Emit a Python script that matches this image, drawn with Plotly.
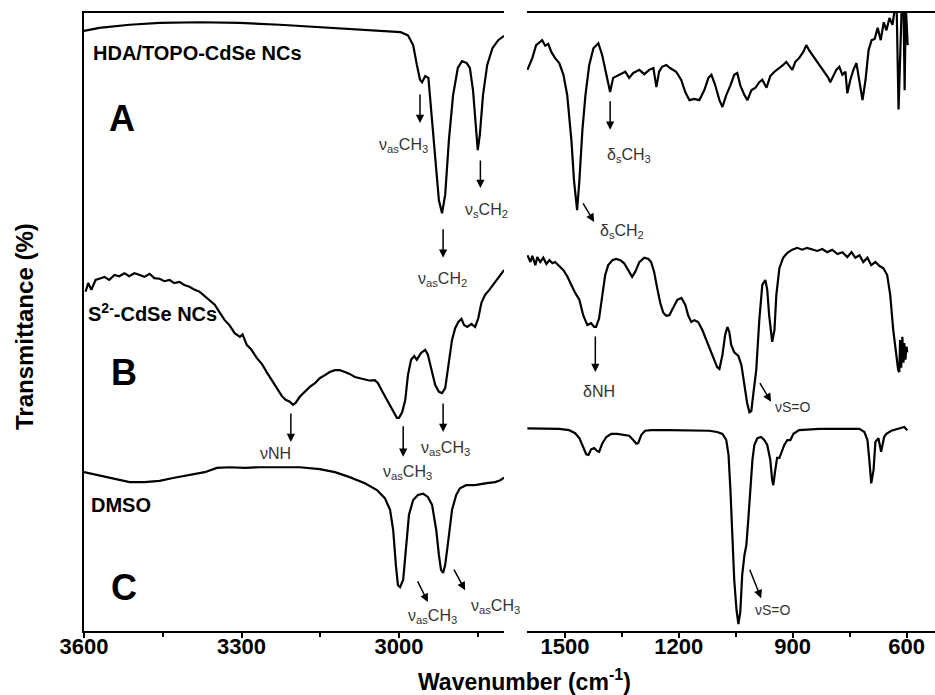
import plotly.graph_objects as go

# ---------------- DATA (wavenumber cm^-1, transmittance in arbitrary offset units) ----------------
# Curve A : HDA/TOPO-CdSe NCs, high-wavenumber region
a_hi_wn = [3600, 3571, 3513, 3456, 3380, 3303, 3227, 3151, 3074, 3017, 2997, 2983, 2973, 2966, 2960,
           2956, 2950, 2944, 2937, 2929, 2924, 2918, 2912, 2905, 2897, 2888, 2880, 2871, 2865, 2859,
           2854, 2850, 2846, 2840, 2832, 2822, 2811, 2800]
a_hi_t = [97.1, 97.6, 98.1, 98.4, 98.5, 98.4, 98.1, 97.7, 97.4, 97.1, 96.9, 96.4, 94.8, 91.6, 89.2,
          88.8, 89.8, 89.5, 82.7, 74.6, 69.7, 67.6, 70.6, 79.4, 86.7, 91.1, 92.2, 91.9, 91.1, 87.5,
          81.1, 77.8, 80.3, 86.7, 91.6, 94.3, 95.6, 96.3]
# Curve A : low-wavenumber region
a_lo_wn = [1599, 1586, 1576, 1565, 1560, 1552, 1544, 1536, 1526, 1515, 1504, 1494, 1483, 1476, 1470,
           1468, 1462, 1454, 1446, 1436, 1425, 1412, 1402, 1391, 1381, 1373, 1362, 1352, 1341, 1331,
           1320, 1304, 1291, 1278, 1267, 1259, 1252, 1244, 1233, 1223, 1207, 1194, 1183, 1172, 1159,
           1146, 1133, 1122, 1114, 1104, 1093, 1085, 1075, 1064, 1054, 1046, 1038, 1027, 1019, 1009,
           998, 988, 980, 969, 959, 948, 935, 925, 917, 909, 901, 893, 883, 872, 864,
           856, 848, 838, 827, 817, 806, 801, 793, 785, 777, 769, 761, 756, 748, 740,
           732, 724, 716, 708, 700, 692, 684, 676, 668, 660, 653, 645, 637, 632, 626,
           621, 618, 613, 608, 605, 602, 597]
a_lo_t = [90.8, 92.7, 94.8, 95.3, 95.6, 94.7, 95.0, 93.7, 92.7, 91.9, 90.0, 86.7, 79.4, 72.8, 68.9,
          68.1, 72.9, 81.1, 86.7, 91.6, 94.3, 95.1, 93.2, 90.0, 87.2, 89.5, 89.8, 90.1, 90.5, 89.5,
          90.3, 90.8, 90.1, 90.8, 91.1, 88.0, 90.5, 91.3, 91.6, 91.1, 90.5, 89.2, 87.2, 85.9, 86.1,
          85.9, 87.5, 89.5, 90.0, 88.3, 85.9, 84.8, 86.7, 88.3, 90.0, 90.3, 88.3, 86.7, 85.9, 87.5,
          87.9, 88.8, 89.2, 87.9, 89.8, 90.5, 91.1, 91.6, 92.1, 91.4, 90.8, 92.1, 92.7, 93.7, 94.8,
          93.9, 93.2, 92.4, 91.4, 90.5, 89.5, 88.8, 89.8, 90.8, 91.3, 90.0, 90.5, 87.0, 89.2, 90.8,
          91.9, 89.2, 85.9, 89.2, 94.0, 95.6, 95.8, 97.6, 95.6, 98.5, 97.2, 99.2, 98.1, 100.2, 100.8,
          84.4, 91.6, 100.5, 101.3, 87.5, 101.3, 94.8]

# Curve B : S2- -CdSe NCs, high-wavenumber region
b_hi_wn = [3597, 3592, 3586, 3578, 3571, 3561, 3552, 3542, 3533, 3523, 3514, 3504, 3494, 3485, 3475,
           3466, 3456, 3447, 3437, 3428, 3418, 3409, 3399, 3389, 3380, 3370, 3361, 3351, 3342, 3332,
           3323, 3313, 3303, 3298, 3290, 3281, 3271, 3261, 3252, 3242, 3233, 3223, 3216, 3208, 3202,
           3197, 3189, 3179, 3170, 3160, 3151, 3141, 3132, 3122, 3113, 3103, 3094, 3084, 3074, 3065,
           3055, 3046, 3040, 3032, 3025, 3017, 3009, 3004, 3000, 2994, 2988, 2983, 2977, 2971, 2966,
           2958, 2950, 2945, 2939, 2931, 2924, 2918, 2912, 2906, 2899, 2893, 2887, 2881, 2876, 2870,
           2862, 2855, 2849, 2843, 2836, 2828, 2821, 2813, 2807, 2800]
b_hi_t = [54.9, 56.3, 55.2, 56.8, 57.0, 57.3, 56.8, 57.6, 57.4, 57.9, 57.4, 57.9, 57.6, 57.3, 57.8,
          57.1, 57.0, 56.6, 56.8, 56.3, 56.5, 56.0, 55.7, 55.2, 54.9, 54.2, 53.6, 52.8, 51.6, 50.3,
          49.5, 48.2, 47.6, 48.0, 46.3, 45.5, 44.2, 43.2, 41.9, 40.6, 39.3, 38.0, 37.4, 37.1, 36.6,
          36.9, 37.9, 38.7, 39.5, 40.1, 40.9, 41.4, 41.9, 42.2, 42.2, 41.9, 41.6, 41.1, 40.9, 40.6,
          40.5, 40.6, 40.1, 38.8, 37.7, 36.6, 35.3, 34.5, 34.5, 35.4, 37.4, 41.4, 43.9, 44.5, 43.9,
          45.0, 45.5, 44.7, 42.6, 39.8, 38.7, 38.5, 39.3, 42.7, 47.1, 49.0, 50.0, 50.5, 49.5, 49.2,
          49.7, 49.2, 50.6, 53.1, 54.4, 55.2, 56.0, 56.8, 57.4, 58.4]
# Curve B : low-wavenumber region
b_lo_wn = [1599, 1591, 1586, 1578, 1573, 1565, 1557, 1549, 1541, 1533, 1526, 1515, 1504, 1494, 1483,
           1473, 1462, 1452, 1441, 1431, 1423, 1418, 1410, 1402, 1394, 1386, 1375, 1365, 1354, 1344,
           1333, 1323, 1315, 1304, 1291, 1280, 1273, 1265, 1257, 1249, 1241, 1233, 1225, 1214, 1204,
           1193, 1183, 1175, 1167, 1159, 1149, 1138, 1128, 1117, 1107, 1099, 1093, 1085, 1078, 1072,
           1067, 1062, 1054, 1043, 1035, 1027, 1020, 1014, 1009, 1004, 996, 988, 980, 972, 967,
           962, 956, 954, 948, 943, 935, 925, 914, 901, 888, 875, 862, 848, 835, 822,
           809, 796, 782, 769, 756, 745, 735, 724, 714, 703, 693, 682, 672, 661, 651,
           643, 635, 627, 622, 619, 617, 614, 611, 608, 606, 603, 600, 598]
b_lo_t = [60.8, 59.7, 60.7, 59.2, 60.5, 59.7, 60.4, 59.4, 60.0, 59.5, 59.7, 59.1, 58.4, 57.4, 56.0,
          54.7, 53.6, 51.1, 49.5, 49.8, 49.2, 49.2, 50.6, 54.4, 57.6, 59.2, 60.0, 60.2, 60.0, 59.5,
          58.4, 57.3, 58.1, 59.7, 60.4, 60.2, 59.7, 58.1, 55.5, 53.1, 51.5, 51.0, 51.1, 52.3, 53.6,
          53.9, 52.8, 51.0, 50.0, 50.3, 50.0, 48.7, 47.1, 45.5, 43.9, 42.7, 42.4, 44.7, 47.9, 49.2,
          48.4, 46.3, 45.1, 44.5, 43.0, 39.8, 36.9, 35.4, 35.6, 38.2, 42.2, 50.3, 56.0, 56.8, 55.2,
          51.1, 47.1, 46.8, 48.7, 54.4, 58.7, 60.4, 61.2, 61.7, 62.0, 61.7, 62.0, 61.8, 61.5, 61.8,
          61.3, 61.7, 61.0, 61.3, 60.5, 61.3, 60.4, 60.8, 59.7, 60.4, 59.2, 59.7, 59.1, 58.7, 57.6,
          54.4, 48.7, 44.7, 42.2, 41.9, 47.1, 42.6, 47.6, 43.4, 46.6, 43.9, 46.0, 45.1]

# Curve C : DMSO, high-wavenumber region
c_hi_wn = [3600, 3571, 3542, 3513, 3485, 3456, 3428, 3399, 3370, 3347, 3323, 3294, 3265, 3227, 3189,
           3151, 3122, 3094, 3065, 3042, 3027, 3017, 3011, 3006, 3002, 2998, 2992, 2987, 2981, 2973,
           2964, 2954, 2945, 2937, 2929, 2924, 2920, 2916, 2912, 2906, 2899, 2891, 2884, 2872, 2855,
           2836, 2817, 2807, 2800]
c_hi_t = [25.7, 25.2, 24.6, 24.1, 24.1, 24.3, 24.8, 25.2, 25.7, 26.4, 26.5, 26.4, 26.5, 26.5, 26.5,
          26.2, 25.7, 24.9, 23.9, 22.8, 21.5, 19.6, 16.3, 10.7, 7.4, 7.1, 8.3, 13.1, 18.8, 21.2,
          22.0, 22.2, 21.7, 20.4, 16.3, 12.3, 9.9, 9.4, 10.7, 14.7, 19.6, 22.0, 23.1, 23.6, 23.6,
          23.9, 24.1, 24.4, 24.8]
# Curve C : low-wavenumber region
c_lo_wn = [1599, 1555, 1515, 1489, 1473, 1462, 1452, 1444, 1438, 1431, 1423, 1415, 1410, 1402, 1391,
           1378, 1362, 1347, 1331, 1320, 1312, 1307, 1299, 1289, 1273, 1225, 1172, 1120, 1099, 1085,
           1075, 1069, 1064, 1059, 1054, 1048, 1043, 1038, 1033, 1027, 1022, 1017, 1012, 1006, 1001,
           993, 983, 975, 967, 959, 954, 951, 946, 941, 935, 930, 922, 914, 906, 898,
           883, 830, 777, 724, 711, 703, 698, 693, 687, 682, 674, 667, 659, 653, 640,
           619, 606, 598]
c_lo_t = [32.8, 32.8, 32.7, 32.5, 32.0, 31.2, 29.8, 28.6, 28.5, 29.4, 29.6, 29.1, 29.0, 30.3, 31.4,
          31.9, 31.9, 31.7, 31.6, 30.9, 30.3, 30.4, 31.7, 32.4, 32.5, 32.5, 32.4, 32.4, 32.2, 31.9,
          30.9, 28.5, 22.8, 14.7, 8.3, 3.4, 1.1, 3.1, 9.1, 12.3, 13.9, 18.0, 22.8, 27.7, 30.1,
          31.2, 31.4, 30.9, 30.1, 27.7, 24.4, 23.6, 26.0, 28.0, 28.0, 28.8, 30.1, 30.9, 30.9, 31.9,
          32.5, 32.7, 32.7, 32.7, 32.2, 30.9, 27.7, 23.9, 26.0, 30.6, 31.2, 29.0, 31.4, 31.9, 32.4,
          32.7, 33.0, 32.5]

hi_ticks = [3600, 3300, 3000]
lo_ticks = [1500, 1200, 900, 600]

# ---------------- FIGURE ----------------
W, H = 935, 695
ML, MR, MT, MB = 84, 0, 13, 64
LINE = dict(color="black", width=2.2)

fig = go.Figure()
for wn, t in [(a_hi_wn, a_hi_t), (b_hi_wn, b_hi_t), (c_hi_wn, c_hi_t)]:
    fig.add_trace(go.Scatter(x=wn, y=t, mode="lines", line=LINE, xaxis="x", yaxis="y",
                             showlegend=False, hoverinfo="skip"))
for wn, t in [(a_lo_wn, a_lo_t), (b_lo_wn, b_lo_t), (c_lo_wn, c_lo_t)]:
    fig.add_trace(go.Scatter(x=wn, y=t, mode="lines", line=LINE, xaxis="x2", yaxis="y",
                             showlegend=False, hoverinfo="skip"))

FAM = "Liberation Sans, Arial, sans-serif"
tickfont = dict(family=FAM, size=22, color="black", weight="bold")
pw = W - ML - MR
common_x = dict(showline=True, linecolor="black", linewidth=2, mirror=True, ticks="outside",
                ticklen=5, tickwidth=1.5, tickcolor="black", showgrid=False, zeroline=False,
                tickfont=tickfont, ticklabelstandoff=-10,
                minor=dict(ticks="outside", ticklen=4, tickwidth=1.5, tickcolor="black", dtick=150,
                           tick0=0, showgrid=False))

fig.update_layout(
    width=W, height=H, margin=dict(l=ML, r=MR, t=MT, b=MB),
    paper_bgcolor="white", plot_bgcolor="white",
    xaxis=dict(domain=[0, (504 - ML) / pw], range=[3600, 2800], anchor="y",
               tickmode="array", tickvals=hi_ticks, ticktext=[str(v) for v in hi_ticks], **common_x),
    xaxis2=dict(domain=[(527 - ML) / pw, 1.0], range=[1600, 525], anchor="y",
                tickmode="array", tickvals=lo_ticks, ticktext=[str(v) for v in lo_ticks], **common_x),
    yaxis=dict(range=[0, 100], showline=True, linecolor="black", linewidth=2, showticklabels=False,
               ticks="", showgrid=False, zeroline=False, anchor="x"),
)

lab_font = dict(family=FAM, size=16, color="#333333")
small_font = dict(family=FAM, size=14, color="#333333")
head_font = dict(family=FAM, size=20, color="black", weight="bold")
big_font = dict(family=FAM, size=36, color="black", weight="bold")

ann = []
def arrow(xr, x, y, ax, ay):
    ann.append(dict(xref=xr, yref="y", x=x, y=y, ax=ax, ay=ay, text="", showarrow=True,
                    arrowhead=2, arrowsize=1.1, arrowwidth=1.5, arrowcolor="black", standoff=0))
def label(xr, x, y, text, font=lab_font, xanchor="center"):
    ann.append(dict(xref=xr, yref="y", x=x, y=y, text=text, showarrow=False, font=font,
                    xanchor=xanchor, yanchor="middle"))

VAS3 = "ν<sub>as</sub>CH<sub>3</sub>"
VAS2 = "ν<sub>as</sub>CH<sub>2</sub>"

# A
arrow("x", 2960, 82.2, 0, -30); label("x", 2992, 78.5, VAS3)
arrow("x", 2916, 60.4, 0, -30); label("x", 2918, 56.8, VAS2)
arrow("x", 2845, 71.7, 0, -29); label("x", 2834, 68.1, "ν<sub>s</sub>CH<sub>2</sub>")
arrow("x2", 1381, 81.1, 0, -30); label("x2", 1331, 77.0, "δ<sub>s</sub>CH<sub>3</sub>")
arrow("x2", 1423, 66.2, -12, -20); label("x2", 1349, 64.6, "δ<sub>s</sub>CH<sub>2</sub>")
# B
arrow("x", 3206, 30.6, 0, -30); label("x", 3235, 28.8, "νNH")
arrow("x", 2992, 28.2, 0, -32); label("x", 2984, 25.7, VAS3)
arrow("x", 2916, 32.2, 0, -30); label("x", 2912, 29.6, VAS3)
arrow("x2", 1420, 41.9, 0, -37); label("x2", 1410, 38.8, "δNH")
arrow("x2", 957, 37.1, -12, -20); label("x2", 900, 36.2, "νS=O", small_font)
# C
arrow("x", 2945, 4.7, -11, -22); label("x", 2937, 2.3, VAS3)
arrow("x", 2874, 6.6, -12, -22); label("x", 2817, 3.9, VAS3)
arrow("x2", 983, 5.3, -12, -30); label("x2", 953, 3.4, "νS=O", small_font)

# sample names and panel letters
label("x", 3586, 93.5, "HDA/TOPO-CdSe NCs", head_font, "left")
label("x", 3527, 83.0, "A", big_font)
label("x", 3597, 51.6, "S<sup>2-</sup>-CdSe NCs", head_font, "left")
label("x", 3523, 41.9, "B", big_font)
label("x", 3590, 20.4, "DMSO", head_font, "left")
label("x", 3523, 7.1, "C", big_font)

# axis titles
title_font = dict(family=FAM, size=23, color="black", weight="bold")
ann.append(dict(xref="paper", yref="paper", x=(524 - ML) / pw, y=(H - MB - 680) / (H - MT - MB),
                text="Wavenumber (cm<sup>-1</sup>)", showarrow=False, font=title_font,
                xanchor="center", yanchor="middle"))
ann.append(dict(xref="paper", yref="paper", x=(24 - ML) / pw, y=(H - MB - 327) / (H - MT - MB),
                text="Transmittance (%)", showarrow=False, font=dict(title_font, size=24),
                textangle=-90, xanchor="center", yanchor="middle"))

fig.update_layout(annotations=ann)
fig.write_html("out.html")
